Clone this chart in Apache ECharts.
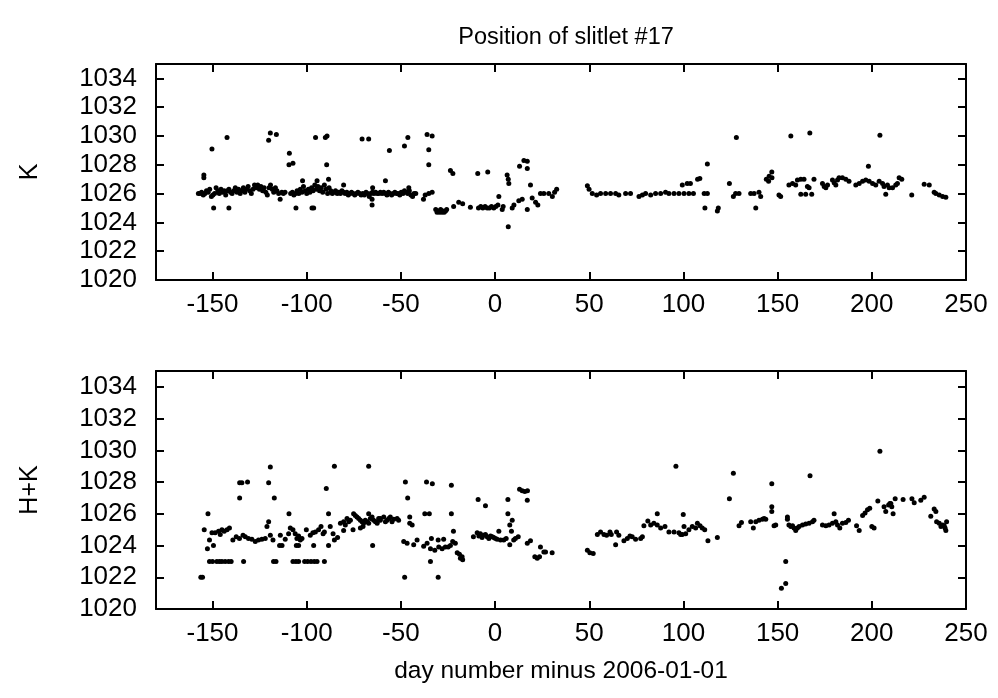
<!DOCTYPE html>
<html>
<head>
<meta charset="utf-8">
<script src="https://cdn.jsdelivr.net/npm/echarts@6/dist/echarts.min.js"></script>
<style>
  html, body { margin: 0; padding: 0; background: #fff; }
  #chart { width: 998px; height: 698px; }
</style>
</head>
<body>
<div id="chart"></div>
<script>
const xTicks = [-150, -100, -50, 0, 50, 100, 150, 200, 250];
const yTicks = [1020, 1022, 1024, 1026, 1028, 1030, 1032, 1034];

// K: [day, position]
const kData = [
  [-157.5,1026.0],[-156.6,1026.0],[-155.8,1026.1],[-154.9,1025.9],[-154.0,1026.0],[-153.2,1026.2],[-152.3,1026.1],[-151.5,1026.3],
  [-150.6,1025.8],[-149.8,1025.9],[-148.9,1026.0],[-148.1,1026.4],[-147.2,1026.2],[-146.4,1026.0],[-145.5,1026.3],[-144.7,1026.1],
  [-143.8,1026.2],[-143.0,1025.9],[-142.1,1026.2],[-141.3,1026.3],[-140.4,1026.1],[-139.6,1026.0],[-138.7,1026.2],[-137.9,1026.4],
  [-137.0,1026.1],[-136.2,1026.3],[-135.3,1026.0],[-134.5,1026.2],[-133.6,1026.4],[-132.8,1026.1],[-131.9,1026.3],[-131.1,1026.5],
  [-130.2,1026.2],[-129.4,1026.0],[-128.5,1026.3],[-127.7,1026.6],[-126.8,1026.4],[-126.0,1026.6],[-125.1,1026.3],[-124.3,1026.5],
  [-123.4,1026.2],[-122.6,1026.4],[-121.7,1026.1],[-120.9,1025.9],[-120.0,1026.4],[-119.2,1026.6],[-118.3,1026.3],[-117.5,1026.1],
  [-116.6,1026.4],[-115.8,1026.2],[-114.9,1026.0],[-114.1,1025.6],[-113.2,1026.1],[-112.4,1026.0],[-111.5,1026.1],
  [-108.5,1026.0],[-107.6,1026.1],[-106.8,1025.9],[-105.9,1026.0],[-105.1,1026.2],[-104.2,1026.0],[-103.4,1026.3],[-102.5,1026.1],
  [-101.7,1026.5],[-100.8,1026.2],[-100.0,1026.0],[-99.1,1026.3],[-98.3,1026.1],[-97.4,1026.4],[-96.6,1026.2],[-95.7,1026.6],
  [-94.9,1026.3],[-94.0,1026.5],[-93.2,1026.2],[-92.3,1026.4],[-91.5,1026.1],[-90.6,1026.6],[-89.8,1026.3],[-88.9,1026.0],
  [-88.1,1026.4],[-87.2,1026.2],[-86.4,1026.0],[-85.5,1026.1],[-84.7,1026.2],[-83.8,1026.0],[-83.0,1026.1],[-82.1,1026.0],
  [-81.3,1026.2],[-80.4,1026.1],[-79.6,1026.0],[-78.7,1026.1],[-77.9,1025.9],[-77.0,1026.0],[-76.2,1026.1],[-75.3,1026.0],
  [-74.5,1025.9],[-73.6,1026.0],[-72.8,1026.1],[-71.9,1026.0],[-71.1,1025.9],[-70.2,1026.0],[-69.4,1025.9],[-68.5,1026.1],
  [-67.7,1026.0],[-66.8,1025.8],[-66.0,1026.0],[-65.1,1026.1],[-64.3,1026.0],[-63.4,1026.1],[-62.6,1026.0],[-61.7,1026.0],
  [-60.9,1026.1],[-60.0,1026.0],[-59.1,1026.1],[-58.3,1026.0],[-57.4,1025.9],[-56.6,1026.1],[-55.7,1026.0],[-54.9,1025.9],
  [-54.0,1026.0],[-53.2,1026.1],[-52.3,1026.0],[-51.5,1026.0],[-50.6,1025.9],[-49.8,1026.1],[-48.9,1026.0],[-48.1,1026.2],
  [-47.2,1026.1],[-46.4,1026.0],[-45.5,1026.2],[-44.7,1025.9],[-43.8,1025.8],[-43.0,1026.0],[-42.1,1026.0],
  [-150.3,1029.1],[-142.3,1029.9],[-154.6,1027.3],[-154.6,1027.1],[-149.4,1025.0],[-141.3,1025.0],[-119.3,1030.2],[-116.1,1030.1],
  [-120.2,1029.7],[-109.2,1028.8],[-109.4,1028.0],[-107.3,1028.1],[-105.7,1025.0],[-97.2,1025.0],[-96.3,1025.0],[-95.3,1029.9],
  [-90.1,1029.9],[-89.2,1030.0],[-89.4,1028.0],[-88.4,1027.0],[-102.2,1026.9],[-94.5,1026.9],[-80.4,1026.6],[-65.3,1025.2],
  [-65.3,1025.6],[-70.6,1029.8],[-67.1,1029.8],[-65.0,1026.4],
  [-58.2,1026.9],[-56.1,1029.0],[-48.1,1029.3],[-46.3,1029.9],[-45.8,1026.4],[-36.1,1030.1],[-33.4,1030.0],[-35.2,1029.05],
  [-35.2,1028.0],[-38.0,1025.6],[-37.1,1025.9],[-35.2,1026.0],[-33.4,1026.1],
  [-31.5,1024.9],[-30.8,1024.7],[-30.2,1024.8],[-29.5,1024.7],[-28.9,1024.9],[-28.2,1024.7],[-27.6,1024.8],[-27.0,1024.7],
  [-26.3,1024.8],[-25.7,1024.9],
  [-23.7,1027.6],[-22.4,1027.4],[-22.0,1025.1],[-19.3,1025.4],[-17.2,1025.3],[-13.1,1025.05],[-9.2,1027.4],[-3.9,1027.5],
  [-8.8,1025.0],[-7.6,1025.1],[-6.5,1025.0],[-5.3,1025.1],[-4.2,1025.0],[-3.0,1025.0],[-1.9,1025.1],[-0.7,1025.0],
  [0.4,1025.1],[1.5,1025.2],[2.0,1025.8],[6.4,1027.3],[7.0,1027.0],[7.3,1026.7],[3.8,1024.9],[4.3,1025.1],[7.0,1023.7],
  [9.1,1025.0],[10.0,1025.2],[12.6,1025.5],[14.4,1025.6],[13.0,1027.9],[15.3,1028.3],[17.1,1028.25],[17.1,1027.75],
  [17.1,1024.9],[18.8,1026.6],[19.7,1025.7],[21.5,1025.4],[22.7,1025.2],[24.1,1026.0],[25.9,1026.0],[28.5,1026.0],
  [30.4,1025.8],[31.6,1026.1],[32.7,1026.3],
  [49.0,1026.55],[49.9,1026.3],[51.6,1026.0],[53.9,1025.9],[56.0,1026.0],[58.7,1026.0],[61.3,1026.0],[64.0,1026.0],
  [65.7,1025.9],[69.3,1026.0],[71.9,1026.0],[76.4,1025.8],[78.2,1025.9],[79.9,1026.0],[82.6,1025.9],[85.2,1026.0],
  [87.9,1026.0],[90.5,1026.1],[92.3,1026.0],[95.0,1026.0],[97.6,1026.0],[100.3,1026.0],[102.9,1026.0],[105.3,1026.0],
  [99.4,1026.6],[102.0,1026.7],[103.7,1026.7],[107.5,1027.0],[108.7,1027.05],[112.7,1028.05],[111.0,1026.0],[112.7,1026.0],
  [111.4,1025.0],[118.0,1024.8],[118.5,1025.0],[124.4,1026.7],[128.1,1029.9],[126.5,1025.8],[127.7,1026.0],[129.5,1026.0],
  [135.7,1026.0],[137.5,1026.0],[140.1,1026.1],[141.0,1025.8],[138.4,1025.0],[144.0,1027.0],[145.2,1026.85],[147.0,1027.1],
  [146.9,1027.5],[145.5,1027.2],[150.7,1025.9],[151.6,1025.8],[157.0,1030.0],[167.1,1030.2],[204.3,1030.05],[198.2,1027.9],
  [156.0,1026.6],[157.9,1026.7],[159.6,1026.6],[160.5,1026.95],[162.3,1027.0],[164.0,1027.0],
  [162.3,1025.95],[164.9,1025.95],[168.1,1025.95],[165.8,1026.5],[166.7,1026.4],[169.3,1027.0],
  [173.8,1026.7],[174.7,1026.5],[176.5,1026.6],[175.6,1026.4],
  [179.1,1026.95],[180.0,1026.75],[180.9,1026.6],[181.8,1026.95],[182.6,1027.1],[184.4,1027.1],[186.2,1027.0],[187.9,1026.85],
  [191.5,1026.6],[193.3,1026.7],[195.1,1026.85],[196.8,1026.95],[198.6,1026.85],[200.4,1026.7],
  [202.1,1026.6],[203.9,1026.85],[205.7,1026.7],[206.5,1026.5],[207.4,1025.95],[208.3,1026.6],[209.2,1026.4],[211.0,1026.4],
  [212.7,1026.6],[213.6,1026.7],[214.5,1027.1],[215.9,1027.0],
  [221.2,1025.9],[227.8,1026.65],[230.5,1026.6],[233.1,1026.1],[234.0,1026.0],[235.8,1025.9],[237.6,1025.8],[239.3,1025.75]
];

// H+K: [day, position]
const hkData = [
  [-156.2,1022.0],[-155.3,1022.0],[-152.4,1026.0],[-154.4,1025.0],[-151.6,1024.35],[-152.7,1023.8],[-149.5,1024.0],
  [-151.6,1023],[-150.0,1023],[-147.7,1023],[-146.3,1023],[-145.0,1023],[-143.3,1023],[-141.5,1023],[-140.1,1023],
  [-133.5,1023],[-117.6,1023],[-116.3,1023],[-107.3,1023],[-105.7,1023],[-104.3,1023],[-101.1,1023],[-99.5,1023],
  [-97.7,1023],[-96.0,1023],[-94.5,1023],[-90.6,1023],
  [-150.3,1024.8],[-148.6,1024.8],[-146.8,1024.9],[-145.9,1024.7],[-145.0,1025.0],[-143.8,1024.9],[-142.3,1025.0],[-141.0,1025.1],
  [-135.6,1027.0],[-135.6,1027.95],[-134.4,1027.95],[-131.4,1028.0],
  [-139.2,1024.35],[-137.4,1024.55],[-135.7,1024.45],[-133.8,1024.65],[-132.6,1024.55],[-130.9,1024.45],[-129.1,1024.4],
  [-127.3,1024.25],[-125.6,1024.35],[-123.8,1024.4],[-122.0,1024.45],
  [-119.3,1028.95],[-120.2,1027.95],[-117.2,1027.0],[-120.2,1025.5],[-121.1,1025.2],
  [-119.3,1024.65],[-117.9,1024.35],[-114.0,1024.65],[-113.1,1024.0],[-114.4,1024.0],
  [-111.4,1024.4],[-109.6,1024.75],[-108.7,1025.1],[-107.3,1025.0],[-106.1,1024.75],[-105.2,1024.45],[-104.3,1024.6],
  [-103.4,1024.35],[-102.5,1024.45],[-104.3,1024.0],[-105.5,1024.0],[-100.2,1025.0],[-98.1,1024.65],[-96.7,1024.8],
  [-95.4,1024.85],[-93.7,1025.0],[-92.4,1025.2],[-91.3,1024.75],[-90.6,1024.85],
  [-109.4,1026.0],[-96.3,1024.0],[-89.6,1027.6],[-88.4,1026.0],[-85.3,1029.0],
  [-87.5,1025.2],[-86.0,1024.75],[-85.3,1024.35],[-83.6,1024.5],[-88.4,1024.0],
  [-82.1,1025.4],[-80.4,1025.5],[-78.6,1025.7],[-76.8,1025.6],[-75.1,1026.0],[-73.3,1025.8],[-71.5,1025.6],[-69.8,1025.4],
  [-68.0,1025.5],[-66.2,1025.7],[-64.5,1025.6],[-62.6,1025.4],[-60.9,1025.6],
  [-79.5,1025.3],[-77.7,1025.5],[-74.2,1025.9],[-72.4,1025.7],[-70.6,1025.5],[-68.9,1025.6],[-67.1,1025.4],[-65.3,1025.8],
  [-63.5,1025.5],[-61.8,1025.7],
  [-80.4,1024.95],[-75.4,1025.0],[-71.5,1025.1],[-70.1,1025.2],
  [-67.1,1029.0],[-67.1,1026.0],[-65.0,1024.0],
  [-62.6,1025.5],[-60.9,1025.7],[-59.1,1025.8],[-57.3,1025.6],[-55.6,1025.8],[-53.8,1025.65],[-52.0,1025.7],[-51.2,1025.6],
  [-58.2,1025.5],[-56.4,1025.7],[-54.7,1025.5],
  [-47.6,1028.0],[-46.4,1027.0],[-45.3,1025.8],[-45.3,1025.4],[-44.0,1025.3],
  [-48.5,1024.25],[-46.7,1024.15],[-43.2,1024.05],[-41.4,1024.35],[-48.0,1022.0],
  [-36.4,1028.0],[-33.3,1027.9],[-37.3,1026.0],[-34.9,1026.0],
  [-37.9,1023.95],[-36.1,1024.15],[-33.8,1024.45],[-34.3,1023.8],[-32.0,1023.7],[-30.2,1024.35],[-29.9,1023.9],
  [-28.1,1023.8],[-27.3,1024.4],[-26.4,1023.9],[-24.9,1023.9],[-23.7,1024.0],[-22.5,1024.25],[-21.1,1024.15],
  [-34.3,1023.0],[-30.2,1022.0],[-23.2,1027.8],[-23.2,1026.0],[-22.1,1024.9],
  [-20.1,1023.55],[-18.9,1023.45],[-17.5,1023.3],[-17.2,1023.1],[-18.4,1023.2],
  [-11.5,1024.55],[-9.5,1024.8],[-7.8,1024.75],[-6.0,1024.65],[-4.2,1024.55],[-2.4,1024.6],[-0.7,1024.5],[1.1,1024.4],
  [2.9,1024.35],[4.6,1024.35],[5.9,1024.45],
  [-8.6,1024.6],[-6.9,1024.5],[-5.1,1024.7],[-3.3,1024.45],[-1.5,1024.55],[0.2,1024.45],
  [-9.0,1026.9],[-5.1,1026.5],[2.0,1024.9],[6.8,1026.9],[6.8,1026.0],[7.8,1025.3],[9.1,1025.6],[8.7,1024.9],
  [7.8,1024.05],[9.9,1024.35],[10.8,1024.45],[12.3,1024.55],
  [13.0,1027.55],[14.4,1027.45],[15.8,1027.4],[17.2,1027.45],[17.1,1026.85],[17.1,1024.15],[18.8,1024.3],
  [21.1,1023.3],[22.4,1023.2],[23.6,1023.3],[24.1,1023.9],[25.9,1023.6],[26.8,1023.6],[30.3,1023.55],
  [49.0,1023.7],[50.3,1023.55],[52.1,1023.5],
  [54.3,1024.7],[56.0,1024.85],[57.8,1024.7],[59.2,1024.65],[61.0,1024.85],[61.7,1024.7],[64.5,1024.85],[65.7,1024.65],[64.0,1024.05],
  [68.4,1024.3],[70.2,1024.45],[71.6,1024.6],[72.8,1024.55],[74.6,1024.4],[77.3,1024.45],[78.2,1024.55],
  [79.0,1025.25],[81.1,1025.55],[82.6,1025.3],[84.3,1025.4],[86.1,1025.3],[87.9,1025.1],[90.2,1025.2],[92.3,1024.85],
  [95.0,1024.85],[97.6,1024.8],[99.4,1024.7],[101.2,1024.75],[102.9,1025.0],[104.7,1025.2],[107.4,1025.4],[108.8,1025.25],
  [110.0,1025.1],[111.3,1025.0],[106.5,1025.1],
  [86.1,1026.0],[96.0,1029.0],[99.9,1025.95],[100.3,1025.2],[98.5,1024.7],[113.0,1024.3],[118.0,1024.5],[124.4,1026.95],
  [126.5,1028.55],[129.5,1025.25],[130.8,1025.45],
  [135.7,1025.5],[137.1,1025.1],[138.4,1025.5],[140.1,1025.6],[141.9,1025.65],[142.8,1025.7],[146.9,1027.9],
  [146.9,1026.45],[146.9,1026.15],[143.7,1025.65],[148.1,1025.25],[149.0,1025.3],[152.0,1021.3],[154.3,1021.6],[154.3,1023.0],
  [155.2,1025.8],[155.2,1025.65],
  [156.0,1025.3],[157.0,1025.2],[157.9,1025.25],[158.7,1025.1],[159.6,1024.95],[160.5,1025.1],[161.4,1025.2],[163.2,1025.3],
  [164.9,1025.35],[166.7,1025.4],[168.5,1025.5],[169.3,1025.6],[167.2,1028.4],
  [173.8,1025.3],[175.6,1025.25],[177.3,1025.3],[179.1,1025.4],[180.0,1026.0],[180.9,1025.5],[181.8,1025.3],[183.0,1025.1],
  [184.4,1025.4],[186.2,1025.45],[187.6,1025.6],
  [191.9,1025.25],[193.3,1024.95],[195.1,1025.9],[196.4,1026.05],[197.7,1026.25],[198.9,1026.35],[200.0,1025.2],[201.2,1025.1],
  [204.3,1029.95],[203.2,1026.8],
  [206.5,1026.45],[207.4,1026.15],[208.9,1026.55],[209.6,1026.65],[210.6,1026.45],[211.3,1026.0],[212.4,1026.95],[210.1,1026.65],
  [216.6,1026.9],[221.3,1026.95],[222.5,1026.7],[226.0,1026.85],[227.8,1027.05],
  [231.3,1025.85],[233.1,1026.3],[234.0,1026.15],[234.4,1025.5],[235.8,1025.4],[236.7,1025.2],[237.6,1025.3],[239.3,1024.95],
  [238.4,1025.25],[239.7,1025.5],[238.9,1025.1]
];

const fontFamily = 'Liberation Sans';
const fontSize = 25;
const black = '#000';

const xAxisFor = (gridIndex, position, withLabels, name) => ({
  type: 'value',
  gridIndex,
  position,
  min: -180,
  max: 250,
  name: name || '',
  nameLocation: 'middle',
  nameGap: 50,
  nameTextStyle: { color: black, fontFamily, fontSize: 24.5 },
  axisLine: { show: true, onZero: false, lineStyle: { color: black, width: 2 } },
  axisTick: { show: true, inside: true, length: 8, customValues: xTicks, lineStyle: { color: black, width: 2 } },
  axisLabel: { show: withLabels, customValues: xTicks, margin: 12, color: black, fontFamily, fontSize: 26 },
  splitLine: { show: false }
});

const yAxisFor = (gridIndex, position, withLabels, name) => ({
  type: 'value',
  gridIndex,
  position,
  min: 1020,
  max: 1035,
  name: name || '',
  nameLocation: 'middle',
  nameGap: 113,
  nameTextStyle: { color: black, fontFamily, fontSize },
  axisLine: { show: true, onZero: false, lineStyle: { color: black, width: 2 } },
  axisTick: { show: true, inside: true, length: 8, customValues: yTicks, lineStyle: { color: black, width: 2 } },
  axisLabel: {
    show: withLabels, customValues: yTicks, margin: 19, color: black, fontFamily, fontSize: 26,
    formatter: (v) => String(v)
  },
  splitLine: { show: false }
});

const chart = echarts.init(document.getElementById('chart'));
chart.setOption({
  animation: false,
  backgroundColor: '#fff',
  title: {
    text: 'Position of slitlet #17',
    left: 561,
    textAlign: 'center',
    top: 21,
    textStyle: { color: black, fontFamily, fontSize: 23.5, fontWeight: 'normal' }
  },
  grid: [
    { left: 156, top: 64, width: 810, height: 216 },
    { left: 156, top: 371, width: 810, height: 238 }
  ],
  xAxis: [
    xAxisFor(0, 'bottom', true),
    xAxisFor(0, 'top', false),
    xAxisFor(1, 'bottom', true, 'day number minus 2006-01-01'),
    xAxisFor(1, 'top', false)
  ],
  yAxis: [
    yAxisFor(0, 'left', true, 'K'),
    yAxisFor(0, 'right', false),
    yAxisFor(1, 'left', true, 'H+K'),
    yAxisFor(1, 'right', false)
  ],
  series: [
    {
      type: 'scatter', xAxisIndex: 0, yAxisIndex: 0, data: kData,
      symbolSize: 5, itemStyle: { color: black, opacity: 1 }, silent: true
    },
    {
      type: 'scatter', xAxisIndex: 2, yAxisIndex: 2, data: hkData,
      symbolSize: 5, itemStyle: { color: black, opacity: 1 }, silent: true
    }
  ]
});
</script>
</body>
</html>
